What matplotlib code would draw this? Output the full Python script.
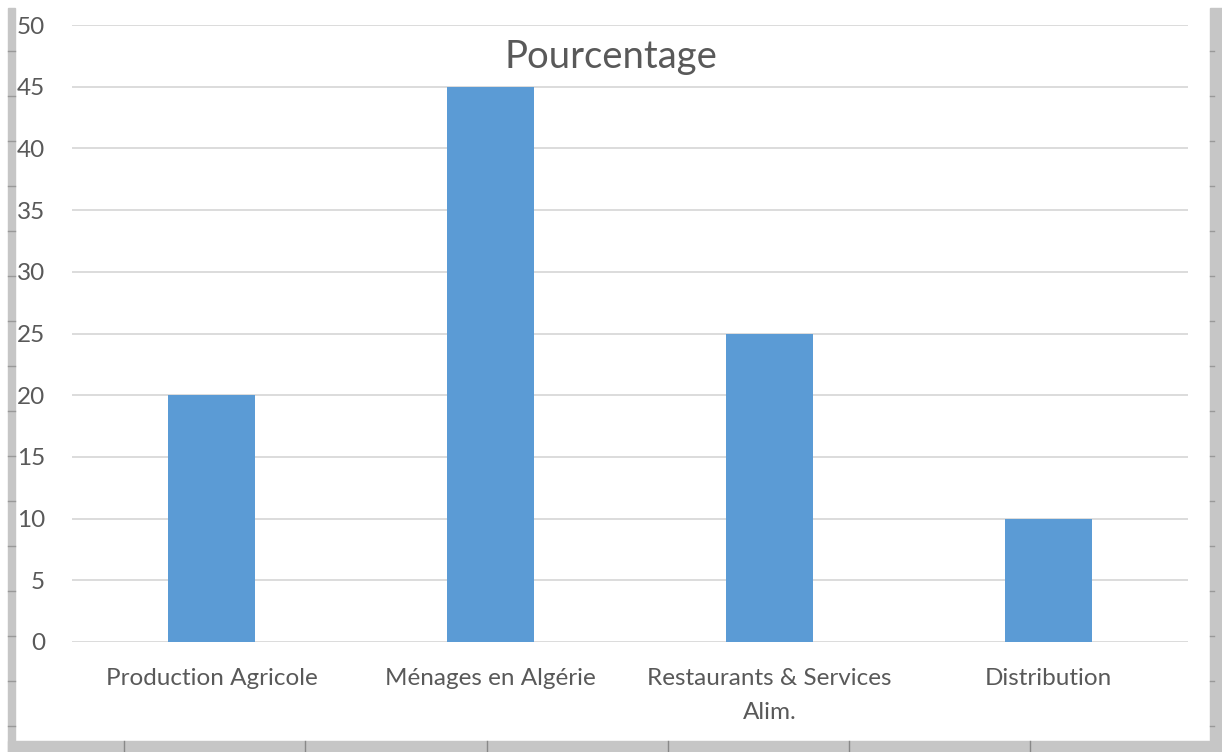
import matplotlib
matplotlib.use("Agg")
import matplotlib.pyplot as plt
from matplotlib.patches import Rectangle

categories = ["Production Agricole", "Ménages en Algérie",
              "Restaurants & Services\nAlim.", "Distribution"]
values = [20, 45, 25, 10]
yticks = [0, 5, 10, 15, 20, 25, 30, 35, 40, 45, 50]

plt.rcParams["font.family"] = ["Lato", "DejaVu Sans"]

fig = plt.figure(figsize=(12.22, 7.52), dpi=100)
ax = fig.add_axes([72 / 1222, 1 - 642 / 752, (1188 - 72) / 1222, (642 - 25) / 752])

x = range(len(categories))
ax.bar(x, values, width=0.31, color="#5b9bd5", zorder=3)

ax.set_xlim(-0.5, len(categories) - 0.5)
ax.set_ylim(0, 50)
ax.set_yticks(yticks)
ax.set_xticks(list(x))
ax.set_xticklabels(categories, fontsize=17.5, color="#595959", linespacing=1.75)
ax.tick_params(axis="y", length=0, pad=19.5, labelsize=17.5, labelcolor="#595959")
ax.tick_params(axis="x", length=0, pad=19)
ax.grid(axis="y", color="#d9d9d9", linewidth=1.3, zorder=0)
for s in ax.spines.values():
    s.set_visible(False)

# title sits over the plot area, centred on the whole chart
fig.text(611 / 1222, 1 - 57 / 752, "Pourcentage", ha="center", va="center",
         fontsize=27.5, color="#595959")

# screenshot frame (gray borders with small ticks)
gray = "#c6c6c6"
fig.patches.append(Rectangle((8 / 1222, 0), 7 / 1222, 1 - 8 / 752, transform=fig.transFigure,
                             color=gray, zorder=0))
fig.patches.append(Rectangle((1210 / 1222, 0), 12 / 1222, 1 - 8 / 752, transform=fig.transFigure,
                             color=gray, zorder=0))
fig.patches.append(Rectangle((8 / 1222, 0), 1214 / 1222, 11 / 752, transform=fig.transFigure,
                             color=gray, zorder=0))
for py in range(51, 740, 45):
    fig.add_artist(plt.Line2D([8 / 1222, 15 / 1222], [1 - py / 752] * 2,
                              transform=fig.transFigure, color="#999999", lw=1))
    fig.add_artist(plt.Line2D([1210 / 1222, 1214 / 1222], [1 - py / 752] * 2,
                              transform=fig.transFigure, color="#999999", lw=1))
for px in [124, 305, 487, 668, 849, 1030]:
    fig.add_artist(plt.Line2D([px / 1222] * 2, [0, 11 / 752],
                              transform=fig.transFigure, color="#888888", lw=1))

fig.savefig("out.png", dpi=100)
